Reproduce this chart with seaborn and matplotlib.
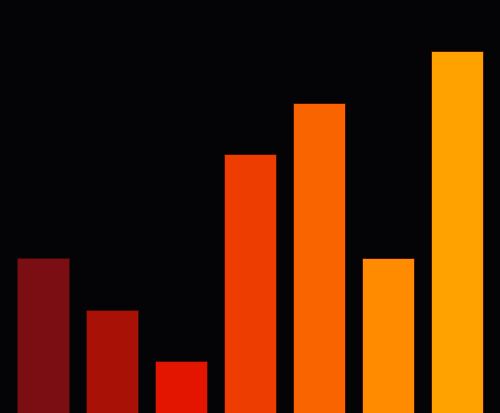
import matplotlib
matplotlib.use('Agg')
import matplotlib.pyplot as plt
import seaborn as sns
import pandas as pd

categorias = ['A', 'B', 'C', 'D', 'E', 'F', 'G']
valores = [3, 2, 1, 5, 6, 3, 7]
cores = ['#7a0e12', '#a81206', '#e31400', '#ee3d00', '#f96400', '#ff8c00', '#ffa200']

df = pd.DataFrame({'cat': categorias, 'val': valores})

fig = plt.figure(figsize=(5, 4.14), dpi=100, facecolor='#040305')
ax = fig.add_axes([0, 0, 1, 1])
ax.set_facecolor('#040305')

sns.barplot(data=df, x='cat', y='val', hue='cat', palette=cores, legend=False,
            width=0.754, saturation=1, edgecolor='#3a0a08', linewidth=0.6, ax=ax)

ax.set_xlim(-0.623, 6.623)
ax.set_ylim(0, 8)
ax.axis('off')

plt.savefig('out.png', dpi=100, facecolor='#040305')
